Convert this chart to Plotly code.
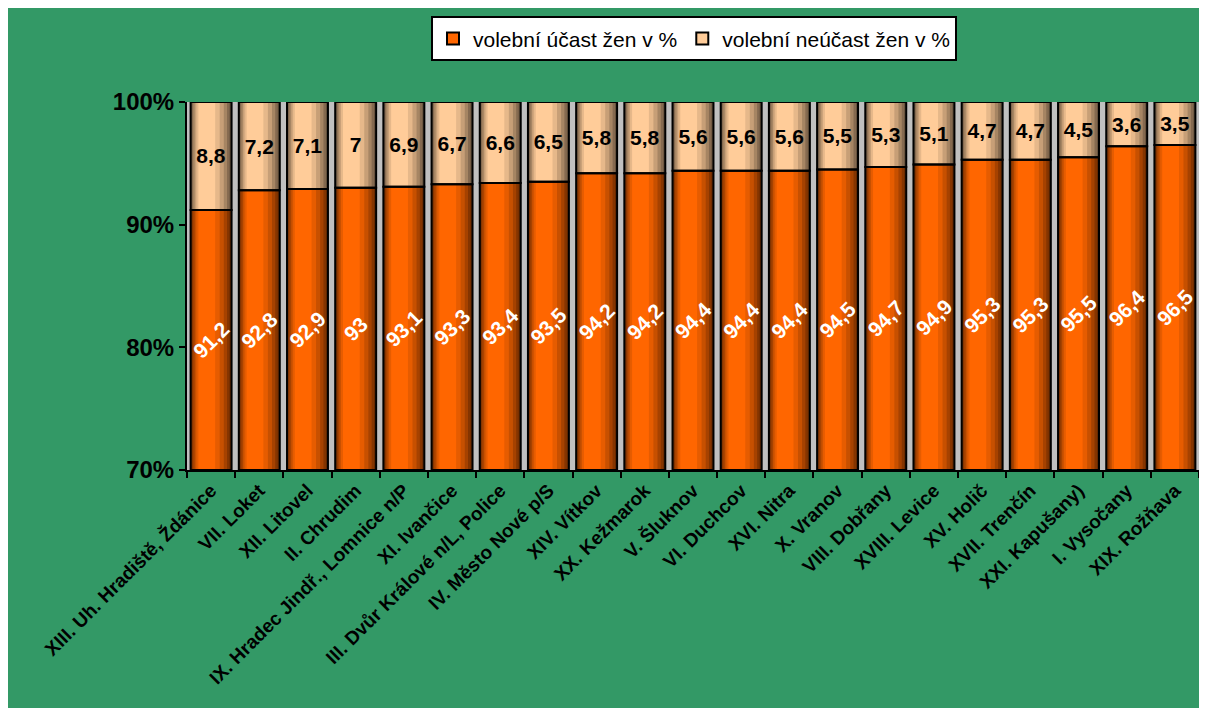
import plotly.graph_objects as go

categories = [
    "XIII. Uh. Hradiště, Ždánice", "VII. Loket", "XII. Litovel", "II. Chrudim",
    "IX. Hradec Jindř., Lomnice n/P", "XI. Ivančice", "III. Dvůr Králové n/L, Police",
    "IV. Město Nové p/S", "XIV. Vítkov", "XX. Kežmarok", "V. Šluknov", "VI. Duchcov",
    "XVI. Nitra", "X. Vranov", "VIII. Dobřany", "XVIII. Levice", "XV. Holič",
    "XVII. Trenčín", "XXI. Kapušany)", "I. Vysočany", "XIX. Rožňava",
]
ucast = [91.2, 92.8, 92.9, 93.0, 93.1, 93.3, 93.4, 93.5, 94.2, 94.2, 94.4, 94.4,
         94.4, 94.5, 94.7, 94.9, 95.3, 95.3, 95.5, 96.4, 96.5]
neucast = [8.8, 7.2, 7.1, 7.0, 6.9, 6.7, 6.6, 6.5, 5.8, 5.8, 5.6, 5.6,
           5.6, 5.5, 5.3, 5.1, 4.7, 4.7, 4.5, 3.6, 3.5]
series_names = ["volební účast žen v %", "volební neúčast žen v %"]
y_ticks = [70, 80, 90, 100]

FONT = "Arial, 'Liberation Sans', sans-serif"
GREEN = "#339966"
ORANGE = (255, 102, 0)
PEACH = (255, 204, 153)
BAR_W = 0.85
Y_MIN, Y_MAX = y_ticks[0], y_ticks[-1]

# orange segments drawn from the axis minimum so their labels sit in the visible part
orange_len = [v - Y_MIN for v in ucast]


def fmt(v):
    return f"{v:g}".replace(".", ",")


def shade(rgb, f):
    return "rgb(%d,%d,%d)" % tuple(int(round(c * f)) for c in rgb)


# cylinder-like shading: nested layers (start, end fraction of bar width, brightness)
layers = [
    (0.00, 1.00, 0.40),
    (0.03, 0.95, 0.52),
    (0.06, 0.89, 0.65),
    (0.10, 0.81, 0.78),
    (0.14, 0.71, 0.90),
    (0.19, 0.60, 1.00),
]

fig = go.Figure()
for a, b, f in layers:
    off = -BAR_W / 2 + a * BAR_W
    wid = (b - a) * BAR_W
    fig.add_trace(go.Bar(x=categories, y=orange_len, base=Y_MIN, offset=off, width=wid,
                         marker=dict(color=shade(ORANGE, f), line=dict(width=0)),
                         showlegend=False, hoverinfo="skip"))
    fig.add_trace(go.Bar(x=categories, y=neucast, base=ucast, offset=off, width=wid,
                         marker=dict(color=shade(PEACH, f), line=dict(width=0)),
                         showlegend=False, hoverinfo="skip"))

# outlines + labels
fig.add_trace(go.Bar(x=categories, y=orange_len, base=Y_MIN, offset=-BAR_W / 2, width=BAR_W,
                     marker=dict(color="rgba(0,0,0,0)", line=dict(color="black", width=2)),
                     text=[fmt(v) for v in ucast], textposition="inside",
                     insidetextanchor="middle", textangle=-45, constraintext="none",
                     textfont=dict(family=FONT, size=21, color="white", weight="bold"),
                     showlegend=False, hoverinfo="skip"))
fig.add_trace(go.Bar(x=categories, y=neucast, base=ucast, offset=-BAR_W / 2, width=BAR_W,
                     marker=dict(color="rgba(0,0,0,0)", line=dict(color="black", width=2)),
                     text=[fmt(v) for v in neucast], textposition="inside",
                     insidetextanchor="middle", textangle=0, constraintext="none",
                     textfont=dict(family=FONT, size=21, color="black", weight="bold"),
                     showlegend=False, hoverinfo="skip"))

# legend entries
fig.add_trace(go.Bar(x=[None], y=[None], name=series_names[0],
                     marker=dict(color=shade(ORANGE, 1), line=dict(color="black", width=2))))
fig.add_trace(go.Bar(x=[None], y=[None], name=series_names[1],
                     marker=dict(color=shade(PEACH, 1), line=dict(color="black", width=2))))

W, H = 1199, 700
L, R, T, B = 179, 8, 92, 238
pw, ph = W - L - R, H - T - B
plot_bottom = H - B

fig.update_layout(
    width=W, height=H,
    margin=dict(l=L, r=R, t=T, b=B, pad=0),
    barmode="overlay",
    paper_bgcolor=GREEN,
    plot_bgcolor="#C0C0C0",
    font=dict(family=FONT, color="black"),
    legend=dict(orientation="h", x=(686 - L) / pw, xanchor="center",
                y=(plot_bottom - 6) / ph, yanchor="top",
                bgcolor="white", bordercolor="black", borderwidth=2,
                font=dict(family=FONT, size=21, color="black"),
                traceorder="normal", tracegroupgap=0),
    xaxis=dict(type="category", tickangle=-45, tickson="boundaries",
               ticks="outside", ticklen=6, tickwidth=2, tickcolor="black",
               showline=True, linecolor="black", linewidth=2, showgrid=False,
               tickfont=dict(family=FONT, size=19, color="black", weight="bold"),
               range=[-0.5, len(categories) - 0.5]),
    yaxis=dict(range=[Y_MIN, Y_MAX], tickvals=y_ticks, ticktext=[f"{t}%" for t in y_ticks],
               ticks="outside", ticklen=6, tickwidth=2, tickcolor="black",
               showline=True, linecolor="black", linewidth=2, showgrid=False,
               zeroline=False,
               tickfont=dict(family=FONT, size=24, color="black", weight="bold")),
)

fig.write_html("out.html")
